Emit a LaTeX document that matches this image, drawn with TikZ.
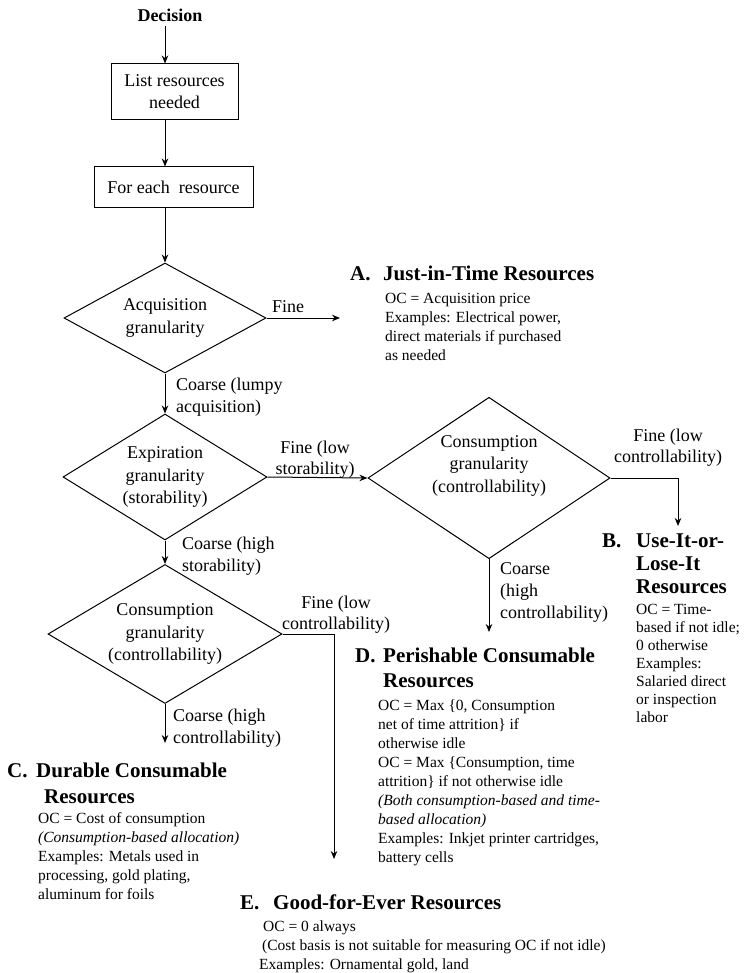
\documentclass[tikz,border=0pt]{standalone}
\usepackage{fontspec}
\setmainfont{Liberation Serif}
\usetikzlibrary{shapes.geometric, arrows.meta}

\begin{document}
\begin{tikzpicture}[
        x=1pt, y=-1pt,
        decision/.style={diamond, draw=black, line width=1pt, inner sep=0pt, align=center, font=\fontsize{18}{22.5}\selectfont},
        stepbox/.style={rectangle, draw=black, line width=1pt, inner sep=0pt, align=center, font=\fontsize{18}{22}\selectfont},
        branch/.style={inner sep=0pt, anchor=base west, align=left, font=\fontsize{18}{22}\selectfont},
        branchc/.style={inner sep=0pt, anchor=base, align=center, font=\fontsize{18}{21}\selectfont},
        tag/.style={inner sep=0pt, anchor=base west, font=\fontsize{21}{24}\selectfont\bfseries},
        heading/.style={inner sep=0pt, anchor=base west, align=left, font=\fontsize{21}{23}\selectfont\bfseries},
        body/.style={inner sep=0pt, anchor=base west, align=left, font=\fontsize{15.5}{19}\selectfont},
        arrow/.style={line width=1pt, -{Stealth[length=8pt, width=6.5pt]}}
    ]
    \useasboundingbox (0,0) rectangle (751,973);

    % --- NODES ---
    % (multi-line nodes sit on the baseline of their last line)
    \node (decision) [inner sep=0pt, font=\fontsize{18}{22}\selectfont\bfseries] at (170,15) {Decision};
    \node (list) [stepbox, minimum width=127pt, minimum height=56pt] at (174.5,92) {List resources\\needed};
    \node (each) [stepbox, minimum width=159pt, minimum height=41pt] at (173.5,187.5) {For each~ resource};

    % the four tests
    \node (acq) [decision, minimum width=202pt, minimum height=110pt, aspect=1.84] at (165,318) {Acquisition\\granularity};
    \node (expir) [decision, minimum width=204pt, minimum height=126pt, aspect=1.62] at (165,477) {Expiration\\granularity\\(storability)};
    \node (consR) [decision, minimum width=238pt, minimum height=158pt, aspect=1.5] at (489,478) {Consumption\\granularity\\(controllability)\\[6pt]};
    \node (consL) [decision, minimum width=234pt, minimum height=139pt, aspect=1.68] at (165,634) {Consumption\\granularity\\(controllability)};

    % branch labels
    \node (fineA) [branch] at (272,312) {Fine};
    \node (coarseA) [branch] at (176,412) {Coarse (lumpy\\acquisition)};
    \node (fineExp) [branchc] at (315,474) {Fine (low\\storability)};
    \node (coarseExp) [branch] at (182,571) {Coarse (high\\storability)};
    \node (fineR) [branchc] at (668,462) {Fine (low\\controllability)};
    \node (coarseR) [branch] at (500,618) {Coarse\\(high\\controllability)};
    \node (fineL) [branchc] at (336,629) {Fine (low\\controllability)};
    \node (coarseL) [branch] at (173,743) {Coarse (high\\controllability)};

    % A. Just-in-Time
    \node (tagA) [tag] at (350,280) {A.};
    \node (headA) [heading] at (383,280) {Just-in-Time Resources};
    \node (bodyA) [body] at (385,360) {OC = Acquisition price\\Examples: Electrical power,\\direct materials if purchased\\as needed};

    % B. Use-It-or-Lose-It
    \node (tagB) [tag] at (602,547) {B.};
    \node (headB) [heading] at (636,593) {Use-It-or-\\Lose-It\\Resources};
    \node (bodyB) [body, font=\fontsize{15.5}{18}\selectfont] at (636,722) {OC = Time-\\based if not idle;\\0 otherwise\\Examples:\\Salaried direct\\or inspection\\labor};

    % C. Durable Consumable
    \node (tagC) [tag] at (7,777) {C.};
    \node (headC) [heading] at (36,777) {Durable Consumable};
    \node (headCb) [heading] at (44,803) {Resources};
    \node (bodyC) [body] at (38,899) {OC = Cost of consumption\\\textit{(Consumption-based allocation)}\\Examples: Metals used in\\processing, gold plating,\\aluminum for foils};

    % D. Perishable Consumable
    \node (tagD) [tag] at (355,662) {D.};
    \node (headD) [heading] at (383,662) {Perishable Consumable};
    \node (headDb) [heading] at (383,687) {Resources};
    \node (bodyD) [body] at (378,862) {OC = Max \{0, Consumption\\net of time attrition\} if\\otherwise idle\\OC = Max \{Consumption, time\\attrition\} if not otherwise idle\\\textit{(Both consumption-based and time-}\\\textit{based allocation)}\\Examples: Inkjet printer cartridges,\\battery cells};

    % E. Good-for-Ever
    \node (tagE) [tag] at (240,909) {E.};
    \node (headE) [heading] at (273,909) {Good-for-Ever Resources};
    \node (bodyE) [body] at (259,969) {\hspace*{4pt}OC = 0 always\\\hspace*{3pt}(Cost basis is not suitable for measuring OC if not idle)\\Examples: Ornamental gold, land};

    % free ends of the outcome arrows
    \coordinate (toA) at (340,318);
    \coordinate (toB) at (678,526);
    \coordinate (toC) at (165,743);
    \coordinate (toD) at (489,632);
    \coordinate (toE) at (334,859);

    % --- ARROWS ---
    \draw [arrow] ([yshift=-4pt]decision.south -| acq.north) -- (list.north -| acq.north);
    \draw [arrow] (list.south -| acq.north) -- (each.north -| acq.north);
    \draw [arrow] (each.south -| acq.north) -- (acq.north);
    \draw [arrow] (acq.east) -- (toA);
    \draw [arrow] (acq.south) -- (expir.north);
    \draw [arrow] (expir.east) -- (consR.west);
    \draw [arrow] (expir.south) -- (consL.north);

    % right test
    \draw [arrow] (consR.east) -| (toB);
    \draw [arrow] (consR.south) -- (toD);

    % left test
    \draw [arrow] (consL.east) -| (toE);
    \draw [arrow] (consL.south) -- (toC);

\end{tikzpicture}
\end{document}
